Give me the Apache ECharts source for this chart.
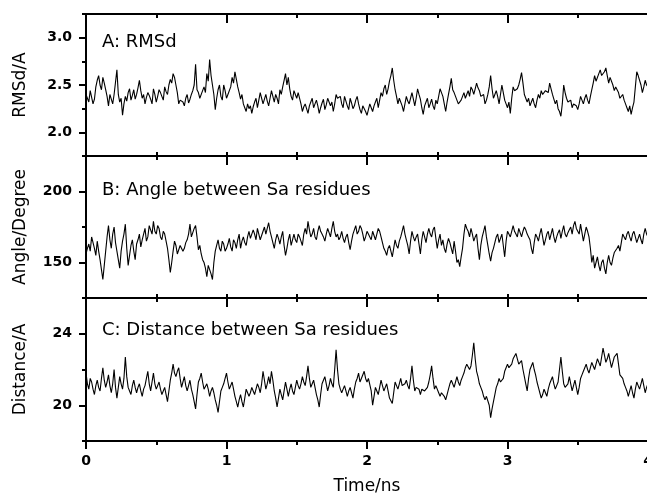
<!DOCTYPE html>
<html>
<head>
<meta charset="utf-8">
<script src="https://cdn.jsdelivr.net/npm/echarts@6/dist/echarts.min.js"></script>
<style>html,body{margin:0;padding:0;background:#fff;}#c{width:647px;height:495px;}</style>
</head>
<body>
<div id="c"></div>
<script>
// time span (ns) covered by the samples
const timeStart = 0, timeEnd = 4;
const xTickLabels = ['0', '1', '2', '3', '4'];
const yTicksA = [2.0, 2.5, 3.0];
const yTicksB = [150, 200];
const yTicksC = [20, 24];
const panelTitles = ['A: RMSd', 'B: Angle between Sa residues', 'C: Distance between Sa residues'];
const yNames = ['RMSd/A', 'Angle/Degree', 'Distance/A'];

const rmsd = [
2.40,2.36,2.32,2.44,2.42,2.30,2.35,2.48,2.55,2.60,2.50,2.45,2.58,2.52,2.45,2.38,2.28,2.40,2.35,2.30,
2.40,2.38,2.66,2.40,2.32,2.36,2.18,2.30,2.38,2.33,2.42,2.46,2.34,2.39,2.45,2.35,2.40,2.47,2.55,2.44,
2.36,2.40,2.30,2.37,2.42,2.39,2.35,2.30,2.46,2.40,2.32,2.38,2.45,2.42,2.38,2.34,2.48,2.43,2.40,2.50,
2.56,2.52,2.62,2.58,2.50,2.42,2.30,2.34,2.36,2.32,2.28,2.36,2.40,2.31,2.35,2.40,2.44,2.50,2.72,2.45,
2.42,2.36,2.38,2.44,2.48,2.42,2.62,2.54,2.77,2.60,2.50,2.40,2.24,2.36,2.45,2.50,2.38,2.34,2.50,2.44,
2.36,2.40,2.42,2.48,2.58,2.52,2.64,2.56,2.48,2.42,2.35,2.40,2.30,2.26,2.22,2.30,2.25,2.28,2.20,2.27,
2.32,2.36,2.26,2.34,2.42,2.36,2.30,2.35,2.40,2.33,2.28,2.36,2.44,2.38,2.32,2.40,2.36,2.30,2.45,2.40,
2.48,2.55,2.62,2.50,2.58,2.46,2.38,2.34,2.44,2.40,2.36,2.42,2.40,2.30,2.22,2.27,2.30,2.25,2.20,2.28,
2.32,2.36,2.26,2.30,2.34,2.28,2.20,2.26,2.31,2.35,2.24,2.29,2.36,2.32,2.28,2.32,2.22,2.30,2.40,2.36,
2.34,2.38,2.30,2.26,2.38,2.33,2.28,2.24,2.36,2.31,2.25,2.28,2.34,2.38,2.30,2.24,2.20,2.28,2.26,2.22,
2.18,2.24,2.30,2.26,2.22,2.28,2.32,2.36,2.26,2.34,2.42,2.38,2.46,2.50,2.40,2.46,2.54,2.60,2.68,2.55,
2.45,2.38,2.30,2.36,2.34,2.28,2.22,2.30,2.38,2.33,2.30,2.36,2.42,2.35,2.28,2.36,2.46,2.40,2.35,2.26,
2.19,2.28,2.32,2.36,2.26,2.30,2.35,2.28,2.24,2.34,2.30,2.38,2.46,2.42,2.38,2.30,2.22,2.32,2.40,2.48,
2.57,2.45,2.42,2.38,2.34,2.30,2.28,2.34,2.38,2.42,2.36,2.40,2.44,2.38,2.48,2.45,2.40,2.46,2.52,2.47,
2.44,2.38,2.36,2.40,2.30,2.34,2.40,2.48,2.60,2.46,2.36,2.40,2.44,2.38,2.30,2.40,2.50,2.42,2.34,2.30,
2.26,2.32,2.20,2.36,2.48,2.44,2.42,2.46,2.50,2.56,2.63,2.52,2.40,2.36,2.32,2.36,2.28,2.32,2.36,2.30,
2.26,2.34,2.40,2.36,2.44,2.40,2.38,2.44,2.46,2.42,2.52,2.46,2.40,2.35,2.30,2.34,2.25,2.22,2.17,2.30,
2.50,2.42,2.36,2.32,2.30,2.34,2.26,2.30,2.32,2.28,2.24,2.30,2.38,2.34,2.30,2.36,2.40,2.34,2.30,2.38,
2.45,2.52,2.60,2.54,2.55,2.62,2.66,2.60,2.58,2.64,2.68,2.60,2.52,2.58,2.60,2.50,2.44,2.48,2.50,2.42,
2.36,2.38,2.40,2.34,2.30,2.26,2.22,2.28,2.19,2.26,2.32,2.48,2.64,2.60,2.58,2.50,2.42,2.48,2.55,2.50,
2.48];

const angle = [
156,160,163,158,168,164,160,155,165,158,152,145,138,148,158,168,176,166,160,170,
175,164,158,152,146,158,165,170,177,160,148,155,162,166,158,152,163,166,170,161,
166,170,174,165,168,176,173,170,179,172,170,176,174,168,166,172,170,165,160,152,
143,150,158,165,162,156,157,162,163,158,160,164,166,170,177,168,171,174,176,168,
159,162,156,152,150,146,140,148,145,142,138,150,158,162,166,160,158,165,163,158,
160,163,167,161,158,166,164,160,166,170,160,165,168,164,162,168,172,167,166,173,
170,166,174,170,166,169,172,175,170,174,178,172,168,164,160,166,170,167,163,168,
172,162,155,160,166,170,162,166,170,166,164,170,168,165,162,170,174,170,179,173,
168,170,174,168,166,172,176,172,170,168,165,170,174,171,168,174,179,172,168,170,
166,168,172,167,164,168,170,164,159,165,170,173,176,170,172,176,174,170,165,168,
172,170,168,166,172,169,166,170,174,172,168,164,160,158,155,160,162,158,154,160,
166,162,160,165,168,172,176,170,166,162,156,165,172,168,165,168,170,163,156,166,
172,168,164,170,174,170,168,173,175,167,160,166,170,162,166,160,157,163,167,164,
160,156,165,158,150,152,147,154,160,170,177,174,172,168,174,170,165,168,170,160,
152,162,168,172,176,168,162,156,151,157,160,164,168,170,164,167,170,162,154,165,
172,170,168,172,176,172,170,168,174,171,168,172,175,173,170,168,166,160,156,164,
170,168,165,170,174,168,162,166,170,172,166,170,174,168,164,168,171,173,167,172,
176,170,168,171,173,175,170,176,179,174,172,170,177,171,165,170,175,172,168,160,
150,155,146,150,154,148,144,150,152,146,142,150,155,150,148,153,157,158,160,162,
158,164,170,168,166,170,172,168,165,170,172,168,164,167,170,166,163,170,174,170,
168];

const distance = [
21.8,21.2,20.9,21.5,21.3,20.9,20.6,21.1,21.4,21.0,20.8,21.5,22.1,21.4,21.0,21.3,21.7,21.1,20.7,21.2,
22.0,21.0,20.4,21.0,21.6,21.2,20.9,21.5,22.7,21.6,21.0,20.8,20.6,21.1,21.4,21.0,20.7,21.0,21.2,20.8,
20.5,20.9,21.1,21.5,21.9,21.2,20.8,21.3,21.8,21.2,20.9,21.1,21.3,20.9,20.6,20.8,21.0,20.6,20.2,20.8,
21.4,21.8,22.3,21.8,21.6,21.9,22.1,21.5,21.0,21.3,21.6,21.1,20.8,21.1,21.4,20.9,20.6,20.2,19.8,20.6,
21.3,21.5,21.8,21.3,20.9,21.0,21.2,20.9,20.5,20.8,21.0,20.7,20.3,20.0,19.6,20.2,20.8,21.0,21.2,21.5,
21.8,21.3,20.9,21.0,21.3,20.9,20.5,20.2,19.9,20.3,20.6,20.2,19.9,20.4,20.9,20.7,20.5,20.7,21.0,20.8,
20.6,20.9,21.2,21.0,20.7,21.2,21.9,21.4,20.9,21.2,21.6,21.2,21.9,21.4,20.8,20.4,19.9,20.4,20.9,20.6,
20.3,20.8,21.3,20.9,20.5,20.9,21.2,20.8,20.6,21.0,21.4,21.1,20.9,21.2,21.6,21.3,21.1,21.6,22.2,21.5,
21.0,21.2,21.4,21.0,20.6,20.3,19.9,20.6,21.2,21.4,21.6,21.2,20.8,21.1,21.5,21.2,21.0,22.0,23.1,22.0,
21.2,20.9,20.7,20.9,21.1,20.8,20.5,20.8,21.0,20.7,20.4,20.9,21.3,21.5,21.8,21.3,21.5,21.6,21.9,21.5,
21.3,21.5,21.6,20.8,20.0,20.5,21.0,20.8,20.6,21.0,21.4,21.1,20.8,21.0,21.2,20.8,20.4,20.3,20.1,20.7,
21.3,21.1,20.9,21.2,21.5,21.1,21.0,21.2,21.4,21.1,20.9,21.5,22.2,21.4,20.8,21.0,21.1,20.9,20.6,20.9,
21.0,20.8,20.7,21.0,21.3,21.7,22.2,21.5,20.9,21.1,21.0,20.7,20.5,20.7,20.8,20.5,20.3,20.6,20.9,21.2,
21.4,21.2,21.0,21.3,21.6,21.3,21.1,21.4,21.6,21.8,22.1,22.3,22.4,22.0,22.2,22.8,23.5,22.6,21.9,21.6,
21.2,21.0,20.8,20.5,20.3,20.5,20.6,20.0,19.3,19.8,20.2,20.6,21.0,21.2,21.5,21.3,21.2,21.5,21.9,22.1,
22.3,22.1,22.0,22.3,22.6,22.7,22.9,22.6,22.3,22.4,22.5,22.0,21.6,21.2,20.8,21.5,22.0,22.2,22.4,22.0,
21.7,21.3,21.0,20.7,20.4,20.6,20.9,20.7,20.5,20.9,21.2,21.4,21.6,21.2,20.9,21.1,21.3,22.0,22.7,21.9,
21.2,21.0,20.9,21.2,21.6,21.2,20.8,21.1,21.4,21.0,20.6,21.0,21.5,21.7,21.9,22.1,22.3,22.0,21.8,22.1,
22.4,22.2,22.0,22.3,22.6,22.4,22.2,22.7,23.2,22.8,22.4,22.6,22.9,22.5,22.1,22.4,22.7,22.8,22.9,22.3,
21.7,21.6,21.5,21.2,21.0,20.8,20.5,20.8,21.1,20.7,20.4,20.9,21.3,21.1,20.9,21.2,21.5,21.1,20.7,21.0,
21.2];

// sample times: evenly spaced over the simulated span
const pair = arr => arr.map((v, i) => [timeStart + (timeEnd - timeStart) * i / (arr.length - 1), v]);

const FONT = 'DejaVu Sans';
const grids = [
  {left: 86, width: 562, top: 14, height: 142},
  {left: 86, width: 562, top: 156, height: 142},
  {left: 86, width: 562, top: 298, height: 143}
].map(g => Object.assign(g, {show: true, borderColor: '#000', borderWidth: 2, backgroundColor: 'transparent',
  containLabel: false, outerBoundsMode: 'none'}));

const tickStyle = {color: '#000', width: 2};
const xAxes = [];
for (let i = 0; i < 3; i++) {
  const last = i === 2;
  xAxes.push({
    type: 'value', gridIndex: i, position: 'bottom', min: 0, max: 4, interval: 1,
    axisLine: {show: true, onZero: false, lineStyle: {color: '#000', width: 2}},
    axisTick: {show: true, inside: !last, length: last ? 8 : 4, lineStyle: tickStyle},
    minorTick: {show: true, splitNumber: 2, length: 4, lineStyle: tickStyle},
    splitLine: {show: false},
    axisLabel: {show: last, margin: 13, color: '#000', fontFamily: FONT, fontSize: 14, fontWeight: 'bold',
      formatter: v => xTickLabels[Math.round(v)] ?? ''},
    name: last ? 'Time/ns' : '', nameLocation: 'middle', nameGap: 37,
    nameTextStyle: {color: '#000', fontFamily: FONT, fontSize: 17}
  });
  xAxes.push({
    type: 'value', gridIndex: i, position: 'top', min: 0, max: 4, interval: 1,
    axisLine: {show: true, onZero: false, lineStyle: {color: '#000', width: 2}},
    axisTick: {show: true, inside: true, length: 9, lineStyle: tickStyle},
    minorTick: {show: true, splitNumber: 2, length: 4, lineStyle: tickStyle},
    splitLine: {show: false},
    axisLabel: {show: false}
  });
}

const yCfg = [
  {min: 1.75, max: 3.25, interval: 0.25, ticks: yTicksA, fmt: v => v.toFixed(1)},
  {min: 125, max: 225, interval: 25, ticks: yTicksB, fmt: v => String(v)},
  {min: 18, max: 26, interval: 2, ticks: yTicksC, fmt: v => String(v)}
];
const yAxes = [];
yCfg.forEach((c, i) => {
  yAxes.push({
    type: 'value', gridIndex: i, min: c.min, max: c.max, interval: c.interval, position: 'left',
    axisLine: {show: true, onZero: false, lineStyle: {color: '#000', width: 2}},
    axisTick: {show: true, inside: false, length: 4, lineStyle: tickStyle},
    splitLine: {show: false},
    axisLabel: {show: true, margin: 14, color: '#000', fontFamily: FONT, fontSize: 14, fontWeight: 'bold',
      showMinLabel: true, showMaxLabel: true,
      formatter: v => c.ticks.some(t => Math.abs(t - v) < 1e-6) ? c.fmt(v) : ''},
    name: yNames[i], nameLocation: 'middle', nameGap: 57, nameRotate: 90,
    nameTextStyle: {color: '#000', fontFamily: FONT, fontSize: 17}
  });
  yAxes.push({
    type: 'value', gridIndex: i, min: c.min, max: c.max, interval: c.interval, position: 'left',
    axisLine: {show: false},
    axisTick: {show: true, inside: false, length: 7, customValues: c.ticks, lineStyle: tickStyle},
    splitLine: {show: false},
    axisLabel: {show: false}
  });
});

const seriesData = [rmsd, angle, distance];
const series = seriesData.map((d, i) => ({
  type: 'line', xAxisIndex: i * 2, yAxisIndex: i * 2, data: pair(d),
  showSymbol: false, symbol: 'none', animation: false,
  lineStyle: {color: '#000', width: 1.1}
}));

const titleTops = [33, 181, 321];
const graphic = panelTitles.map((t, i) => ({
  type: 'text', left: 102, top: titleTops[i],
  style: {text: t, fill: '#000', font: '18px "DejaVu Sans"'}
}));

const chart = echarts.init(document.getElementById('c'), null, {renderer: 'canvas'});
chart.setOption({
  animation: false,
  grid: grids,
  xAxis: xAxes,
  yAxis: yAxes,
  series: series,
  graphic: graphic
});
</script>
</body>
</html>
